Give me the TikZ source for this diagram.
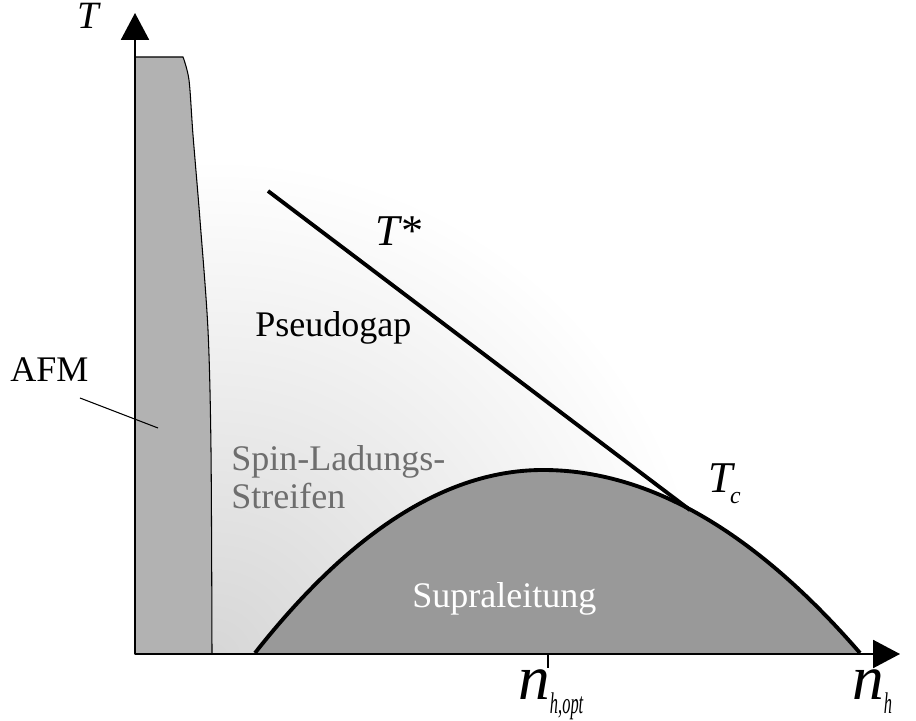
\documentclass[tikz,border=0pt]{standalone}
\usepackage{fontspec}
\setmainfont{Liberation Serif}
\usetikzlibrary{arrows.meta,positioning,calc}

\pgfdeclareradialshading{stripeshade}{\pgfpoint{0bp}{0bp}}%
    {color(0bp)=(black!16); color(25bp)=(white); color(50bp)=(white)}

\begin{document}
\begin{tikzpicture}[
    x=0.02cm, y=0.02cm,
    axis/.style={line width=1.2pt, -{Triangle[length=15.3pt, width=15.9pt]}},
    phaseline/.style={line width=2.2pt},
    thin line/.style={line width=0.6pt},
    region/.style={inner sep=0pt, anchor=base west, font=\fontsize{20.5}{21.5}\selectfont},
    sym/.style={inner sep=0pt, anchor=base west, font=\fontsize{25}{25}\selectfont\itshape},
    dens/.style={inner sep=0pt, anchor=base west, font=\fontsize{36}{36}\selectfont\itshape}
]
\useasboundingbox (0,0) rectangle (916,720);

%% ── Axes corner and ends ─────────────────────────────────────────
\coordinate (origin) at (135,66);
\coordinate (ttip)   at (135,707);
\coordinate (ntip)   at (900,66);

%% ── Stripe region (soft shading) ─────────────────────────────────
\begin{scope}
  \clip (135,66) rectangle (900,707);
  \shade[shading=stripeshade] (212,62) circle (500);
\end{scope}

%% ── AFM region ───────────────────────────────────────────────────
\draw[thin line, fill=black!30] (origin) -- (135,663)
    -- plot[smooth] coordinates {(183,663) (189,640) (193,585) (200,500)
                                 (208,390) (211,270) (212,66)} -- cycle;

%% ── Superconducting dome ─────────────────────────────────────────
\coordinate (domeL)   at (255,67);
\coordinate (domeTop) at (543,250);
\coordinate (domeR)   at (860,67);
\fill[black!40] (domeL) .. controls (351,189) and (447,250) .. (domeTop)
    .. controls (648.7,250) and (754.3,189) .. (domeR) -- cycle;
\draw[phaseline] (domeL) .. controls (351,189) and (447,250) .. (domeTop)
    .. controls (648.7,250) and (754.3,189) .. (domeR);

%% ── Pseudogap line ───────────────────────────────────────────────
\coordinate (tsA) at (268,529);
\coordinate (tsB) at (690,210);
\draw[phaseline] (tsA) -- (tsB);

%% ── Axes ─────────────────────────────────────────────────────────
\draw[axis] (origin) -- (ttip);
\draw[axis] (origin) -- (ntip);
\coordinate (opt)  at (548,66);
\coordinate (optb) at (548,52);
\draw[line width=1.2pt] (opt) -- (optb);

%% ── Labels ───────────────────────────────────────────────────────
\node[sym, font=\fontsize{22}{22}\selectfont\itshape] (tlabel) at (77,691) {T};
\node[sym] (tstar) at (375,474) {T*};
\node[sym] (tc) at (708,227)
    {T\kern-1.5pt\raisebox{-5.7pt}{\fontsize{13.5}{14}\selectfont c}};
\node[dens] (nopt) at (518,20)
    {n\raisebox{-7.5pt}{\fontsize{17}{17}\selectfont\scalebox{0.55}[1]{h,opt}}};
\node[dens] (nh) at (852,20)
    {n\raisebox{-7.5pt}{\fontsize{17}{17}\selectfont\scalebox{0.55}[1]{h}}};

\node[region] (pseudo) at (255,383) {Pseudogap};
\node[region] (afm) at (10,338) {AFM};
\node[region, anchor=north west, align=left, text=black!57] (stripes)
    at (231,275) {Spin-Ladungs-\\Streifen};
\node[region, text=white] (supra) at (412,112) {Supraleitung};

%% ── AFM pointer ──────────────────────────────────────────────────
\coordinate (afmfoot) at (80,322);
\coordinate (afmtip)  at (158,292);
\draw[thin line] (afmfoot) -- (afmtip);

\end{tikzpicture}
\end{document}
